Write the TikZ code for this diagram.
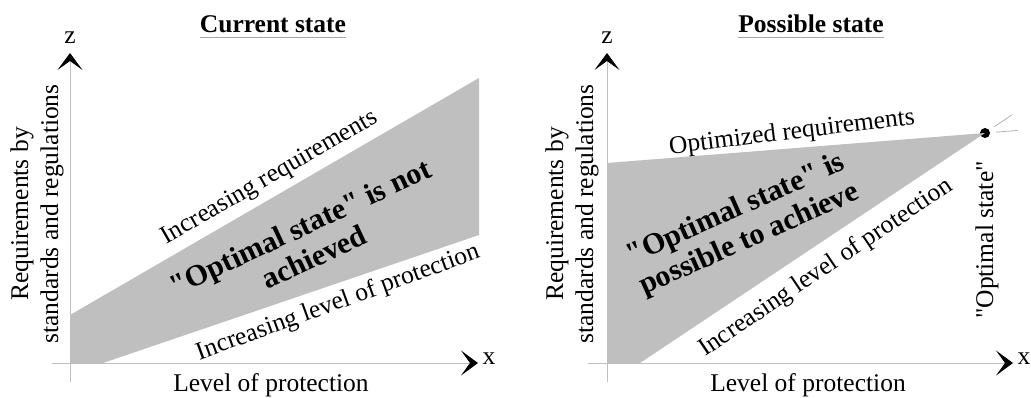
\documentclass[tikz,border=0pt]{standalone}
\usepackage{fontspec}
\setmainfont{Liberation Serif}[Ligatures=TeXOff]
\usetikzlibrary{arrows.meta}
\begin{document}
\begin{tikzpicture}[x=1pt,y=-1pt,
  lbl/.style={font=\fontsize{25.5}{30}\selectfont, inner sep=0pt},
  big/.style={font=\fontsize{30}{33}\selectfont\bfseries, align=center, inner sep=0pt},
  ttl/.style={font=\fontsize{25.5}{30}\selectfont\bfseries, inner sep=0pt, anchor=base},
  axis/.style={draw=black!25, line width=1pt, -{Stealth[length=17pt,width=25pt,inset=9pt,color=black]}},
  region/.style={fill=black!25, draw=none},
  uline/.style={draw=black!35, line width=0.8pt},
  guide/.style={draw=black!30, line width=0.8pt, dash pattern=on 22pt off 30pt, shorten <=11pt}]
\useasboundingbox (0,0) rectangle (1031,397);

% ---------- left panel ----------
\coordinate (a1) at (70,315);
\coordinate (a2) at (479,78);
\coordinate (a3) at (479,235);
\coordinate (a4) at (103,363);
\coordinate (a5) at (70,363);
\fill[region] (a1) -- (a2) -- (a3) -- (a4) -- (a5) -- cycle;

\coordinate (yb1) at (70,382);
\coordinate (yt1) at (70,53);
\coordinate (xl1) at (52,363);
\coordinate (xr1) at (478,363);
\draw[axis] (yb1) -- (yt1);
\draw[axis] (xl1) -- (xr1);

\node[lbl] (z1) at (70,38) {z};
\node[lbl] (x1) at (489,359) {x};
\node[ttl] (t1) at (273,32) {Current state};
\draw[uline] ([yshift=-5pt]t1.base west) -- ([yshift=-5pt]t1.base east);
\node[lbl, rotate=90, align=center] (yl1) at (37,214) {Requirements by\\standards and regulations};
\node[lbl, anchor=base] (xlab1) at (271,391) {Level of protection};
\node[lbl, rotate=30] (req1) at (270,178) {Increasing requirements};
\node[lbl, rotate=20] (prot1) at (338,303) {Increasing level of protection};
\node[big, rotate=25] (msg1) at (307,242) {"Optimal state" is not\\achieved};

% ---------- right panel ----------
\coordinate (b1) at (607,163);
\coordinate (b3) at (640,363);
\coordinate (b4) at (607,363);
\node[circle, fill=black, inner sep=0pt, minimum size=10pt] (dot) at (985,133) {};
\fill[region] (b1) -- (dot.center) -- (b3) -- (b4) -- cycle;
\coordinate (e1) at (1031,102);
\coordinate (e2) at (1031,129.4);
\draw[guide] (dot.center) -- (e1);
\draw[guide] (dot.center) -- (e2);

\coordinate (yb2) at (607,382);
\coordinate (yt2) at (607,53);
\coordinate (xl2) at (588,363);
\coordinate (xr2) at (1013,363);
\draw[axis] (yb2) -- (yt2);
\draw[axis] (xl2) -- (xr2);

\node[lbl] (z2) at (607,38) {z};
\node[lbl] (x2) at (1024,359) {x};
\node[ttl] (t2) at (811,32) {Possible state};
\draw[uline] ([yshift=-5pt]t2.base west) -- ([yshift=-5pt]t2.base east);
\node[lbl, rotate=90, align=center] (yl2) at (572,214) {Requirements by\\standards and regulations};
\node[lbl, anchor=base] (xlab2) at (808,391) {Level of protection};
\node[lbl, rotate=7] (req2) at (792,133) {Optimized requirements};
\node[lbl, rotate=34] (prot2) at (826,268) {Increasing level of protection};
\node[big, rotate=24] (msg2) at (743,225) {"Optimal state" is\\possible to achieve};
\node[lbl, rotate=90] (opt) at (987,240) {"Optimal state"};
\end{tikzpicture}
\end{document}
